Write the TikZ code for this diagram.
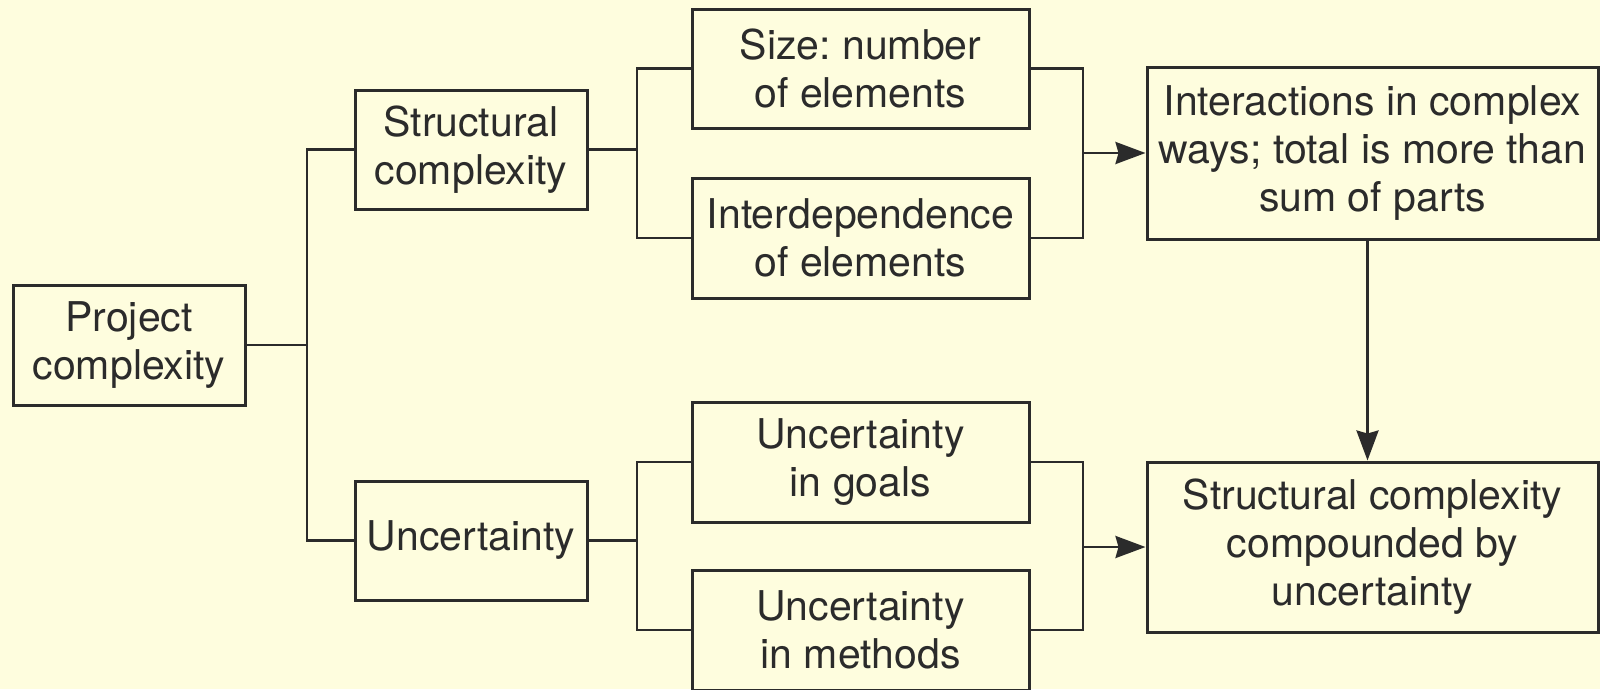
\documentclass[tikz,border=0pt]{standalone}
\usepackage{fontspec}
\setmainfont{TeX Gyre Heros}
\usetikzlibrary{arrows.meta}
\definecolor{paper}{RGB}{254,253,222}
\definecolor{ink}{RGB}{43,43,43}
\frenchspacing
\begin{document}
\begin{tikzpicture}[x=1pt,y=-1pt,
    box/.style={draw=ink,line width=3pt,inner sep=0pt,align=center,text=ink,
        font=\fontsize{41}{48}\selectfont},
    link/.style={draw=ink,line width=2.8pt},
    tip/.style={-{Stealth[length=30pt,width=22pt,inset=3pt]}}]

        % Background
        \fill[paper] (0,0) rectangle (1600,689);
        \useasboundingbox (0,0) rectangle (1600,689);

        % Root
        \node[box,minimum width=232,minimum height=120] (proj) at (129,345) {Project\\complexity};

        % First level
        \node[box,minimum width=232,minimum height=119] (struct) at (471,149.5) {Structural\\complexity};
        \node[box,minimum width=232,minimum height=119] (uncert) at (471,540.5) {Uncertainty};

        % Second level
        \node[box,minimum width=337,minimum height=119] (size) at (860.5,68.5) {Size: number\\of elements};
        \node[box,minimum width=337,minimum height=120] (interdep) at (860.5,238) {Interdependence\\of elements};
        \node[box,minimum width=337,minimum height=120] (goals) at (860.5,462) {Uncertainty\\in goals};
        \node[box,minimum width=337,minimum height=120] (methods) at (860.5,630) {Uncertainty\\in methods};

        % Results
        \node[box,minimum width=451,minimum height=172] (inter) at (1372.5,153) {Interactions in complex\\ways; total is more than\\sum of parts};
        \node[box,minimum width=451,minimum height=170] (comp) at (1372.5,547) {Structural complexity\\compounded by\\uncertainty};

        % Junctions
        \coordinate (t0) at (307,345);
        \coordinate (t1) at (637,149.5);
        \coordinate (t2) at (637,540.5);
        \coordinate (r1) at (1083,153);
        \coordinate (r2) at (1083,547);
        \coordinate (d1) at ([xshift=-5pt]inter.south);

        % Tree lines
        \draw[link] (proj.east) -- (t0);
        \draw[link] (struct.west) -| (t0) |- (uncert.west);
        \draw[link] (struct.east) -- (t1);
        \draw[link] (size.west) -| (t1) |- (interdep.west);
        \draw[link] (uncert.east) -- (t2);
        \draw[link] (goals.west) -| (t2) |- (methods.west);

        % Brackets and arrows
        \draw[link] (size.east) -| (r1) |- (interdep.east);
        \draw[link] (goals.east) -| (r2) |- (methods.east);
        \draw[link,tip] (r1) -- (inter.west);
        \draw[link,tip] (r2) -- (comp.west);
        \draw[link,tip] (d1) -- (d1 |- comp.north);

    \end{tikzpicture}
\end{document}
